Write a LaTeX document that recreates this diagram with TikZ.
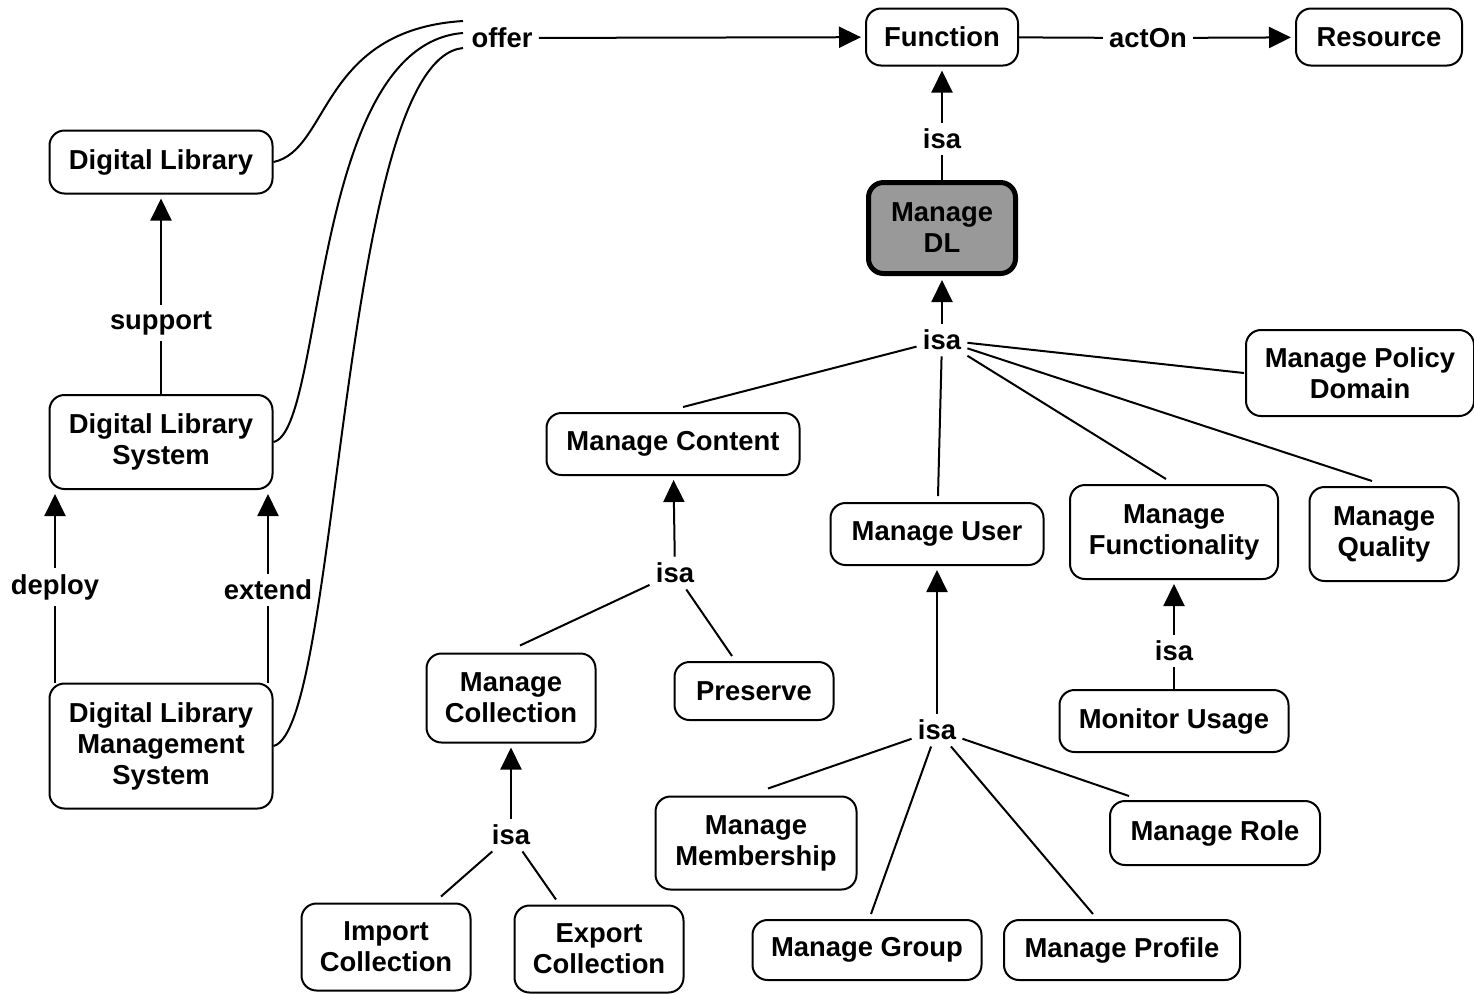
\documentclass[tikz,border=0pt]{standalone}
\usepackage{fontspec}
\setmainfont{Liberation Sans}
\usetikzlibrary{arrows.meta,calc}
\definecolor{dlgray}{RGB}{153,153,153}
\newcommand\dfont{\fontsize{13.7pt}{15.5pt}\selectfont\bfseries}
\begin{document}
\begin{tikzpicture}[x=0.5pt,y=-0.5pt,
  box/.style={draw,rounded corners=7.5pt,line width=1pt,align=center,inner sep=0pt,font=\dfont},
  lab/.style={inner sep=3pt,font=\dfont},
  conn/.style={line width=1pt},
  arr/.style={line width=1pt,-{Triangle[length=11pt,width=10.5pt]},shorten >=2pt}]
\useasboundingbox (0,0) rectangle (1474,993);

% boxes
\node[box,minimum width=76pt,minimum height=28.5pt] (fn) at (942,37) {Function};
\node[box,minimum width=83pt,minimum height=28.5pt] (res) at (1379,37) {Resource};
\node[box,minimum width=111.5pt,minimum height=31.5pt] (dl) at (161,162) {Digital Library};
\node[box,minimum width=111.5pt,minimum height=47pt] (dls) at (161,442) {Digital Library\\System};
\node[box,minimum width=111.5pt,minimum height=62.5pt] (dlms) at (161,746) {Digital Library\\Management\\System};
\node[box,fill=dlgray,line width=2.5pt,minimum width=73.5pt,minimum height=45.5pt] (mdl) at (942,228) {Manage\\DL};
\node[box,minimum width=114pt,minimum height=43pt] (mpd) at (1360,373) {Manage Policy\\Domain};
\node[box,minimum width=126.5pt,minimum height=31pt] (mc) at (673,444) {Manage Content};
\node[box,minimum width=106.5pt,minimum height=31pt] (mu) at (937,534) {Manage User};
\node[box,minimum width=104pt,minimum height=47pt] (mf) at (1174,532) {Manage\\Functionality};
\node[box,minimum width=74.5pt,minimum height=47pt] (mq) at (1384,534) {Manage\\Quality};
\node[box,minimum width=84.5pt,minimum height=44.5pt] (mcol) at (511,698) {Manage\\Collection};
\node[box,minimum width=79.5pt,minimum height=29pt] (pres) at (754,691) {Preserve};
\node[box,minimum width=84.5pt,minimum height=43.5pt] (imp) at (386,947) {Import\\Collection};
\node[box,minimum width=84.5pt,minimum height=43.5pt] (exp) at (599,949) {Export\\Collection};
\node[box,minimum width=114.5pt,minimum height=31pt] (mon) at (1174,721) {Monitor Usage};
\node[box,minimum width=100.5pt,minimum height=46.5pt] (mm) at (756,843) {Manage\\Membership};
\node[box,minimum width=105pt,minimum height=32pt] (mr) at (1215,833) {Manage Role};
\node[box,minimum width=114.5pt,minimum height=30pt] (mg) at (867,950) {Manage Group};
\node[box,minimum width=118pt,minimum height=30pt] (mp) at (1122,950) {Manage Profile};

% labels
\node[lab] (offer) at (502,38) {offer};
\node[lab] (acton) at (1148,38) {actOn};
\node[lab] (isa1) at (942,139) {isa};
\node[lab] (isa2) at (942,340) {isa};
\node[lab] (support) at (161,323) {support};
\node[lab] (deploy) at (55,587) {deploy};
\node[lab] (extend) at (268,590) {extend};
\node[lab] (isa3) at (675,573) {isa};
\node[lab] (isa4) at (511,835) {isa};
\node[lab] (isa5) at (1174,651) {isa};
\node[lab] (isa6) at (937,730) {isa};

% free ends of the offer curves
\coordinate (o1) at (463,21);
\coordinate (o2) at (463,33);
\coordinate (o3) at (463,48);

% connectors
\draw[arr] (offer) -- (fn);
\draw[conn] (fn) -- (acton);
\draw[arr] (acton) -- (res);
\draw[conn] (mdl) -- (isa1);
\draw[arr] (isa1) -- (fn);
\draw[arr] (isa2) -- (mdl);
\draw[conn] (isa2) -- ($(mc.north)+(10,-5)$);
\draw[conn] (isa2) -- ($(mu.north)+(1,-6)$);
\draw[conn] (isa2) -- ($(mf.north)+(-8,-5)$);
\draw[conn] (isa2) -- ($(mq.north)+(-12,-5)$);
\draw[conn] (isa2) -- ($(mpd.west)+(-1,0)$);
\draw[arr] (isa3) -- (mc);
\draw[conn] (isa3) -- ($(mcol.north)+(9,-7)$);
\draw[conn] (isa3) -- ($(pres.north)+(-22,-5)$);
\draw[arr] (isa4) -- (mcol);
\draw[conn] (isa4) -- ($(imp.north)+(55,-6)$);
\draw[conn] (isa4) -- ($(exp.north)+(-43,-5)$);
\draw[arr] (isa5) -- (mf);
\draw[conn] (mon) -- (isa5);
\draw[arr] (isa6) -- (mu);
\draw[conn] (isa6) -- ($(mm.north)+(12,-7)$);
\draw[conn] (isa6) -- ($(mg.north)+(4,-5)$);
\draw[conn] (isa6) -- ($(mp.north)+(-29,-5)$);
\draw[conn] (isa6) -- ($(mr.north west)+(20,-4)$);
\draw[arr] (support) -- (dl);
\draw[conn] (dls) -- (support);
\draw[arr] (deploy) -- (dls.south -| deploy);
\draw[conn] (dlms.north -| deploy) -- (deploy);
\draw[arr] (extend) -- (dls.south -| extend);
\draw[conn] (dlms.north -| extend) -- (extend);

\draw[conn] (dl.east) .. controls (330,150) and (320,30) .. (o1);
\draw[conn] (dls.east) .. controls (325,430) and (310,45) .. (o2);
\draw[conn] (dlms.east) .. controls (340,730) and (340,60) .. (o3);
\end{tikzpicture}
\end{document}
